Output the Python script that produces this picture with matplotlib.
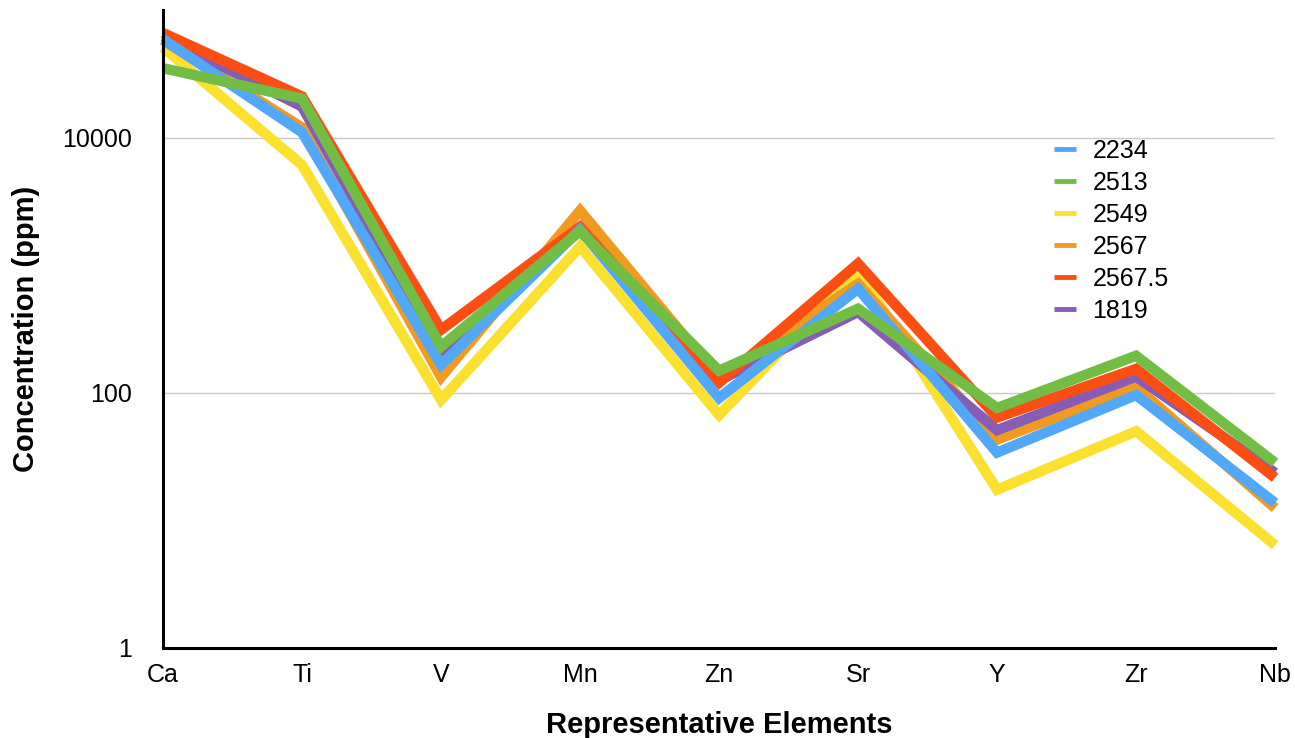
import matplotlib
matplotlib.use("Agg")
import matplotlib.pyplot as plt
from matplotlib.ticker import FixedLocator, NullLocator

plt.rcParams['font.family'] = ['Liberation Sans', 'DejaVu Sans']

elements = ['Ca', 'Ti', 'V', 'Mn', 'Zn', 'Sr', 'Y', 'Zr', 'Nb']

s2234 = [59000, 11000, 166, 1900, 91, 654, 34, 96, 13.7]
s2513 = [35000, 20200, 230, 1850, 149, 456, 76, 195, 28.3]
s2549 = [51000, 6100, 88, 1400, 67, 906, 17.4, 50, 6.4]
s2567 = [58000, 12000, 133, 2680, 131, 716, 43, 111, 12.5]
s2567_5 = [66000, 21000, 312, 2000, 120, 1030, 64, 154, 21.6]
s1819 = [62000, 17500, 199, 1900, 125, 430, 51, 134, 23.6]

labels = ['2234', '2513', '2549', '2567', '2567.5', '1819']
series = [s2234, s2513, s2549, s2567, s2567_5, s1819]
colors = ['#52A8F8', '#72BE44', '#FBE02F', '#F09A21', '#FC4E12', '#875CB4']
# stacking order of the lines (higher draws on top)
zorders = [6, 7, 2, 3, 5, 4]

fig = plt.figure(figsize=(12.95, 7.38), dpi=100)
ax = fig.add_axes([0.1259, 0.122, 0.9846 - 0.1259, 0.9864 - 0.122])

x = list(range(len(elements)))
for vals, lab, col, z in zip(series, labels, colors, zorders):
    ax.plot(x, vals, color=col, lw=7.5, zorder=z, clip_on=False,
            solid_joinstyle='miter', solid_capstyle='butt', label=lab)

ax.set_yscale('log')
ax.set_ylim(1, 1e5)
ax.set_xlim(0, len(elements) - 1)

ax.yaxis.set_major_locator(FixedLocator([1, 100, 10000]))
ax.yaxis.set_minor_locator(NullLocator())
ax.set_yticklabels(['1', '100', '10000'])
ax.set_xticks(x)
ax.set_xticklabels(elements)

ax.tick_params(axis='both', length=0, labelsize=18)
ax.tick_params(axis='y', pad=22)
ax.tick_params(axis='x', pad=11)

ax.grid(axis='y', color='#c8c8c8', lw=1.0, zorder=0)
ax.set_axisbelow(True)

for side in ['top', 'right']:
    ax.spines[side].set_visible(False)
for side in ['left', 'bottom']:
    ax.spines[side].set_color('black')
    ax.spines[side].set_linewidth(2.2)
    ax.spines[side].set_zorder(10)

ax.set_xlabel('Representative Elements', fontsize=21, fontweight='bold', labelpad=17)
ax.set_ylabel('Concentration (ppm)', fontsize=21, fontweight='bold', labelpad=16)

leg_handles = [plt.Line2D([], [], color=c, lw=3.5, solid_capstyle='butt') for c in colors]
fig.legend(leg_handles, labels, loc='upper left',
           bbox_to_anchor=(1036 / 1295, 1 - 121 / 738),
           frameon=False, fontsize=18, handlelength=0.9,
           handletextpad=0.65, labelspacing=0.32, borderpad=0.2)

fig.savefig('out.png', dpi=100)
